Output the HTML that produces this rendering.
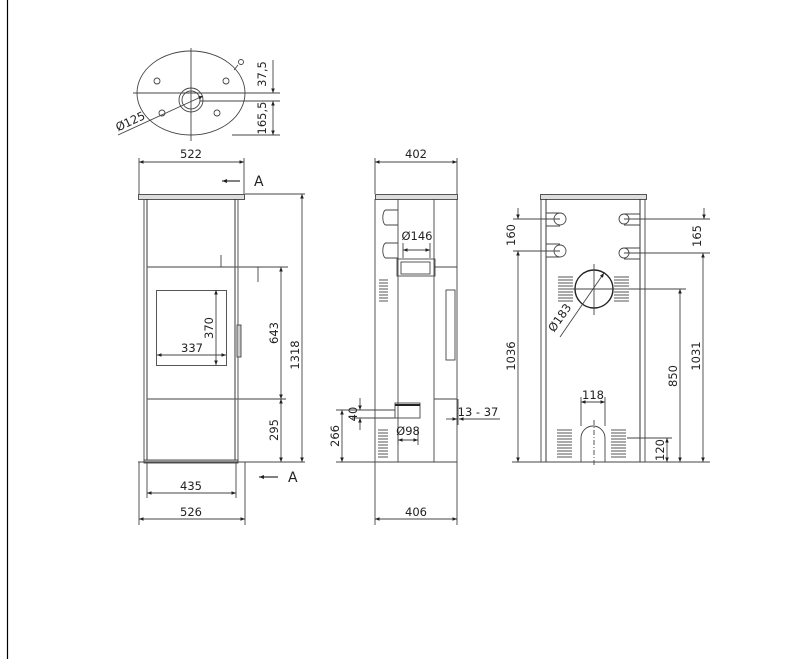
<!DOCTYPE html>
<html><head><meta charset="utf-8"><style>
html,body{margin:0;padding:0;background:#fff}
svg{display:block}
text{font-family:"DejaVu Sans","Liberation Sans",sans-serif;fill:#222}
</style></head><body>
<svg width="798" height="659" viewBox="0 0 798 659" xmlns="http://www.w3.org/2000/svg">
<defs>
<marker id="a" viewBox="0 0 10 10" refX="10" refY="5" markerWidth="7" markerHeight="5" orient="auto-start-reverse"><path d="M0,1 L10,5 L0,9 z" fill="#222"/></marker>
</defs>
<line x1="7.5" y1="0" x2="7.5" y2="659" stroke="#000" stroke-width="1.2"/>

<g stroke="#444" stroke-width="0.9" fill="none">
<ellipse cx="191" cy="93" rx="54" ry="42"/>
<line x1="191" y1="48" x2="191" y2="141"/>
<line x1="133" y1="93" x2="280" y2="93"/>
<line x1="200" y1="101" x2="280" y2="101"/>
<line x1="232" y1="135" x2="280" y2="135"/>
<circle cx="191" cy="100" r="12"/><circle cx="191" cy="100" r="9"/>
<circle cx="241" cy="62" r="2.5"/><path d="M238,65 L234,70"/>
<circle cx="157" cy="81" r="3"/><circle cx="226" cy="81" r="3"/>
<circle cx="162" cy="113" r="3"/><circle cx="217" cy="113" r="3"/>
<line x1="118" y1="135" x2="203" y2="96" marker-end="url(#a)"/>
<line x1="273" y1="60" x2="273" y2="93" marker-end="url(#a)"/>
<line x1="273" y1="101" x2="273" y2="135" marker-start="url(#a)" marker-end="url(#a)"/>

<rect x="138.5" y="194.5" width="106" height="5" fill="#ddd"/>
<line x1="139" y1="158" x2="139" y2="194"/><line x1="244" y1="158" x2="244" y2="194"/>
<line x1="139" y1="162" x2="244" y2="162" marker-start="url(#a)" marker-end="url(#a)"/>
<line x1="144" y1="199" x2="144" y2="462"/><line x1="147" y1="199" x2="147" y2="462" stroke="#222"/>
<line x1="235" y1="199" x2="235" y2="462" stroke="#222"/><line x1="238" y1="199" x2="238" y2="462"/>
<rect x="144" y="460" width="94" height="3" fill="#ccc"/>
<line x1="139" y1="462" x2="139" y2="525"/><line x1="245" y1="462" x2="245" y2="525"/>
<line x1="138" y1="462" x2="305" y2="462"/>
<line x1="147" y1="267" x2="262" y2="267" stroke="#666" stroke-width="1.2"/>
<line x1="262" y1="267" x2="288" y2="267"/>
<line x1="258" y1="267" x2="258" y2="282"/><line x1="221" y1="255" x2="221" y2="267"/>
<line x1="147" y1="399" x2="286" y2="399" stroke="#666" stroke-width="1.2"/>
<rect x="156.5" y="290.5" width="70" height="75"/>
<rect x="237" y="325" width="4" height="32" fill="#ccc"/>
<line x1="216" y1="290" x2="216" y2="365" marker-start="url(#a)" marker-end="url(#a)"/>
<line x1="157" y1="355" x2="226" y2="355" marker-start="url(#a)" marker-end="url(#a)"/>
<line x1="281" y1="267" x2="281" y2="399" marker-start="url(#a)" marker-end="url(#a)"/>
<line x1="281" y1="399" x2="281" y2="462" marker-start="url(#a)" marker-end="url(#a)"/>
<line x1="245" y1="194" x2="305" y2="194"/>
<line x1="302" y1="194" x2="302" y2="462" marker-start="url(#a)" marker-end="url(#a)"/>
<line x1="147" y1="462" x2="147" y2="498"/><line x1="236" y1="462" x2="236" y2="498"/>
<line x1="147" y1="493" x2="236" y2="493" marker-start="url(#a)" marker-end="url(#a)"/>
<line x1="139" y1="519" x2="245" y2="519" marker-start="url(#a)" marker-end="url(#a)"/>
<line x1="240" y1="181" x2="222" y2="181" stroke="#000" stroke-width="1" marker-end="url(#a)"/>
<line x1="278" y1="477" x2="259" y2="477" stroke="#000" stroke-width="1" marker-end="url(#a)"/>

<rect x="375.5" y="194.5" width="82" height="5" fill="#ddd"/>
<line x1="375" y1="158" x2="375" y2="194"/><line x1="457" y1="158" x2="457" y2="194"/>
<line x1="375" y1="162" x2="457" y2="162" marker-start="url(#a)" marker-end="url(#a)"/>
<line x1="375" y1="199" x2="375" y2="525"/><line x1="398" y1="199" x2="398" y2="462"/>
<line x1="434" y1="199" x2="434" y2="462"/><line x1="457" y1="199" x2="457" y2="525"/>
<line x1="375" y1="462" x2="457" y2="462"/>
<line x1="434" y1="267" x2="457" y2="267"/><line x1="434" y1="399" x2="457" y2="399"/>
<line x1="458" y1="399" x2="458" y2="425"/>
<path d="M398,210 H386 A3,7 0 0 0 386,225 H398"/>
<path d="M398,243 H386 A3,7 0 0 0 386,258 H398"/>
<line x1="403" y1="243" x2="403" y2="258"/><line x1="430" y1="243" x2="430" y2="258"/>
<line x1="403" y1="250" x2="430" y2="250" marker-start="url(#a)" marker-end="url(#a)"/>
<rect x="397" y="259" width="38" height="17"/><rect x="401" y="262" width="29" height="12"/>
<rect x="446" y="290" width="9" height="70"/>
<rect x="395" y="403" width="25" height="15"/><line x1="395" y1="405" x2="420" y2="405" stroke="#222" stroke-width="2"/>
<line x1="398" y1="430" x2="398" y2="445"/><line x1="418" y1="430" x2="418" y2="445"/>
<line x1="398" y1="440" x2="418" y2="440" marker-start="url(#a)" marker-end="url(#a)"/>
<line x1="336" y1="410" x2="395" y2="410"/><line x1="352" y1="418" x2="395" y2="418"/>
<line x1="360" y1="398" x2="360" y2="410" marker-end="url(#a)"/>
<line x1="360" y1="430" x2="360" y2="418" marker-end="url(#a)"/>
<line x1="342" y1="410" x2="342" y2="462" marker-start="url(#a)" marker-end="url(#a)"/>
<line x1="336" y1="462" x2="375" y2="462"/>
<line x1="446" y1="419" x2="457" y2="419" marker-end="url(#a)"/>
<line x1="500" y1="419" x2="459" y2="419" marker-end="url(#a)"/>
<line x1="375" y1="519" x2="457" y2="519" marker-start="url(#a)" marker-end="url(#a)"/>
<g stroke="#555"><path d="M379,280h9M379,283h9M379,286h9M379,289h9M379,292h9M379,295h9M379,298h9M379,301h9M378,430h10M378,433h10M378,436h10M378,439h10M378,442h10M378,445h10M378,448h10M378,451h10M378,454h10M378,457h10"/></g>

<rect x="540.5" y="194.5" width="106" height="5" fill="#ddd"/>
<line x1="541" y1="199" x2="541" y2="462"/><line x1="546" y1="199" x2="546" y2="462" stroke="#222"/>
<line x1="640" y1="199" x2="640" y2="462" stroke="#222"/><line x1="645" y1="199" x2="645" y2="462"/>
<line x1="512" y1="462" x2="710" y2="462"/>
<path d="M546,213 H560 M546,226 H560 M546,244 H560 M546,257 H560"/>
<circle cx="560" cy="219" r="6"/><circle cx="560" cy="251" r="6"/>
<path d="M640,214 H624 M640,225 H624 M640,248 H624 M640,259 H624"/>
<circle cx="624" cy="219" r="5"/><circle cx="624" cy="253" r="5"/>
<line x1="513" y1="219" x2="560" y2="219"/><line x1="513" y1="251" x2="560" y2="251"/>
<line x1="518" y1="208" x2="518" y2="219" marker-end="url(#a)"/>
<line x1="518" y1="251" x2="518" y2="462" marker-start="url(#a)" marker-end="url(#a)"/>
<line x1="624" y1="219" x2="710" y2="219"/><line x1="624" y1="253" x2="710" y2="253"/>
<line x1="704" y1="208" x2="704" y2="219" marker-end="url(#a)"/>
<line x1="703" y1="253" x2="703" y2="462" marker-start="url(#a)" marker-end="url(#a)"/>
<circle cx="594" cy="289" r="19" stroke="#222" stroke-width="1.4"/>
<line x1="594" y1="264" x2="594" y2="315"/><line x1="570" y1="289" x2="686" y2="289"/>
<line x1="560" y1="337" x2="604" y2="273" marker-end="url(#a)"/>
<line x1="680" y1="289" x2="680" y2="462" marker-start="url(#a)" marker-end="url(#a)"/>
<path d="M581,462 V438 A12,12 0 0 1 605,438 V462"/>
<line x1="594" y1="420" x2="594" y2="467" stroke-dasharray="5 2 1 2"/>
<line x1="581" y1="397" x2="581" y2="426"/><line x1="605" y1="397" x2="605" y2="426"/>
<line x1="581" y1="402" x2="605" y2="402" marker-start="url(#a)" marker-end="url(#a)"/>
<line x1="627" y1="438" x2="672" y2="438"/>
<line x1="667" y1="438" x2="667" y2="462" marker-start="url(#a)" marker-end="url(#a)"/>
<g stroke="#555"><path d="M558,277h15M558,280h15M558,283h15M558,286h15M558,289h15M558,292h15M558,295h15M558,298h15M558,301h15M614,277h15M614,280h15M614,283h15M614,286h15M614,289h15M614,292h15M614,295h15M614,298h15M614,301h15M557,430h15M557,433h15M557,436h15M557,439h15M557,442h15M557,445h15M557,448h15M557,451h15M557,454h15M557,457h15M611,430h15M611,433h15M611,436h15M611,439h15M611,442h15M611,445h15M611,448h15M611,451h15M611,454h15M611,457h15"/></g>
</g>

<g font-size="11.5">
<text x="266" y="74" transform="rotate(-90 266 74)" text-anchor="middle">37,5</text>
<text x="266" y="118" transform="rotate(-90 266 118)" text-anchor="middle">165,5</text>
<text x="132" y="125" transform="rotate(-25 132 125)" text-anchor="middle">Ø125</text>
<text x="191" y="158" text-anchor="middle">522</text>
<text x="254" y="186" font-size="14">A</text>
<text x="288" y="482" font-size="14">A</text>
<text x="213" y="328" transform="rotate(-90 213 328)" text-anchor="middle">370</text>
<text x="192" y="352" text-anchor="middle">337</text>
<text x="278" y="333" transform="rotate(-90 278 333)" text-anchor="middle">643</text>
<text x="278" y="430" transform="rotate(-90 278 430)" text-anchor="middle">295</text>
<text x="299" y="355" transform="rotate(-90 299 355)" text-anchor="middle">1318</text>
<text x="191" y="490" text-anchor="middle">435</text>
<text x="191" y="516" text-anchor="middle">526</text>
<text x="416" y="158" text-anchor="middle">402</text>
<text x="417" y="240" text-anchor="middle">Ø146</text>
<text x="408" y="435" text-anchor="middle">Ø98</text>
<text x="357" y="414" transform="rotate(-90 357 414)" text-anchor="middle">40</text>
<text x="339" y="436" transform="rotate(-90 339 436)" text-anchor="middle">266</text>
<text x="478" y="416" text-anchor="middle">13 - 37</text>
<text x="416" y="516" text-anchor="middle">406</text>
<text x="515" y="235" transform="rotate(-90 515 235)" text-anchor="middle">160</text>
<text x="515" y="356" transform="rotate(-90 515 356)" text-anchor="middle">1036</text>
<text x="701" y="236" transform="rotate(-90 701 236)" text-anchor="middle">165</text>
<text x="700" y="356" transform="rotate(-90 700 356)" text-anchor="middle">1031</text>
<text x="677" y="376" transform="rotate(-90 677 376)" text-anchor="middle">850</text>
<text x="664" y="450" transform="rotate(-90 664 450)" text-anchor="middle">120</text>
<text x="593" y="399" text-anchor="middle">118</text>
<text x="563" y="320" transform="rotate(-55 563 320)" text-anchor="middle">Ø183</text>
</g>
</svg>
</body></html>
